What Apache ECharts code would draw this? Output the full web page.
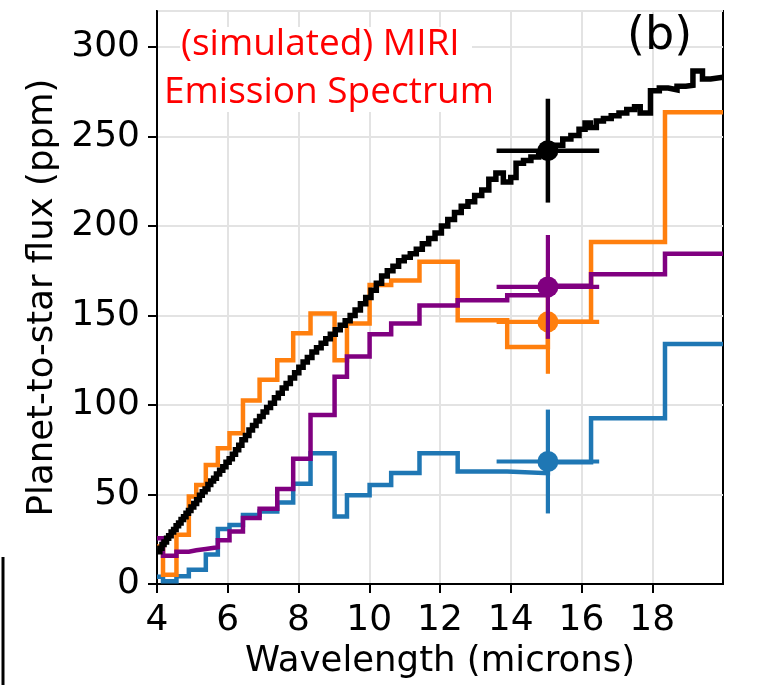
<!DOCTYPE html>
<html>
<head>
<meta charset="utf-8">
<script src="https://cdn.jsdelivr.net/npm/echarts@6/dist/echarts.min.js"></script>
<style>
  html, body { margin: 0; padding: 0; background: #ffffff; }
  #chart { width: 760px; height: 685px; }
</style>
</head>
<body>
<div id="chart"></div>
<script>
// Binned model spectra (bin edges in microns, planet-to-star flux in ppm)
const binEdges = [4.0, 4.17, 4.55, 4.9, 5.11, 5.38, 5.72, 6.05, 6.43, 6.9, 7.4, 7.85,
  8.34, 9.02, 9.37, 10.01, 10.62, 11.42, 12.5, 13.9, 15.05, 16.27, 18.36, 20.0];
const orangeFlux = [21, 5.2, 27.5, 48.8, 55.3, 66.5, 75.8, 84.2, 102.5, 114, 125, 140,
  151, 125, 145.5, 167, 169.5, 180, 147.3, 132.4, 146.4, 191, 263.5];
const purpleFlux = [25.6, 15.8, 18, 18.8, 19.5, 20.5, 24.5, 29.3, 36.8, 42, 53, 70,
  94.4, 115.7, 127, 139.5, 145.5, 155.6, 158.5, 161.3, 166.5, 173, 184.5];
const blueFlux = [4, 1.5, 4.3, 8, 8, 16.5, 30.7, 33, 38.6, 40.5, 45.5, 56,
  73, 37.7, 49.5, 55.3, 62, 73, 62.8, 61.9, 68, 92.5, 134];

// High-resolution model spectrum
const blackWave = [4.02, 4.08, 4.14, 4.20, 4.27, 4.33, 4.40, 4.47, 4.54, 4.61, 4.68, 4.75,
  4.82, 4.89, 4.96, 5.04, 5.12, 5.20, 5.28, 5.36, 5.44, 5.52, 5.60, 5.68, 5.77, 5.86,
  5.95, 6.04, 6.13, 6.22, 6.31, 6.40, 6.50, 6.60, 6.70, 6.80, 6.90, 7.00, 7.10, 7.21,
  7.32, 7.43, 7.54, 7.65, 7.77, 7.89, 8.01, 8.13, 8.25, 8.38, 8.51, 8.64, 8.77, 8.90,
  9.04, 9.18, 9.32, 9.46, 9.60, 9.75, 9.90, 10.05, 10.20, 10.35, 10.51, 10.67, 10.83,
  10.99, 11.16, 11.33, 11.50, 11.68, 11.86, 12.04, 12.22, 12.41, 12.60, 12.79, 12.98,
  13.18, 13.38, 13.58, 13.79, 14.00, 14.15, 14.36, 14.57, 14.79, 15.01, 15.24, 15.47,
  15.70, 15.93, 16.10, 16.25, 16.42, 16.62, 16.84, 17.06, 17.28, 17.50, 17.66, 17.95,
  18.20, 18.45, 18.70, 18.95, 19.15, 19.42, 19.65, 20.0];
const blackFlux = [18, 20, 22, 23.5, 25.5, 27, 29, 30.5, 32.5, 34, 36, 37.5,
  39.5, 41, 43, 45, 47, 49.5, 51.5, 53, 55.5, 57.5, 59, 61.5, 63.5, 65.5,
  68, 70, 72.5, 75, 77.5, 80.5, 83, 86, 88.5, 91, 93.5, 96, 98.5, 101,
  104, 106.5, 109.5, 112, 115, 118, 121, 124, 126.5, 129.5, 132, 134.5, 137, 139.5,
  142, 144.5, 147, 150, 153, 156.5, 160, 164, 168, 172, 175, 177.5, 180.5,
  182.5, 184.5, 187, 190, 193, 196, 200, 203.5, 207.5, 211, 213.5, 217,
  220, 226, 229.5, 224.5, 227, 235, 236.5, 238.5, 240.5, 243, 245, 248.5,
  250.5, 254, 257.5, 255, 258.5, 260, 261.5, 263, 265, 266.5, 263, 275.5,
  277, 276, 278, 278.5, 286.5, 282, 283, 283];

// Simulated photometric points (one filter) with error bars
const photWave = 15.05;
const photHalfWidth = 1.45;
const photErr = 29;
const photNames = ['blue', 'orange', 'purple', 'black'];
const photFlux = [68.4, 146.4, 165.9, 242];

const colors = { blue: '#1f77b4', orange: '#ff7f0e', purple: '#800080', black: '#000000' };
const xTicks = [4, 6, 8, 10, 12, 14, 16, 18];

function stepPoints(edges, values) {
  const pts = values.map((v, i) => [edges[i], v]);
  pts.push([edges[edges.length - 1], values[values.length - 1]]);
  return pts;
}

function stepSeries(name, data, color, width, z) {
  return {
    name, type: 'line', step: 'end', data, showSymbol: false, symbol: 'none',
    lineStyle: { color, width, join: 'miter' }, z, animation: false, clip: true
  };
}

function errorSeries(name, idx, z) {
  return {
    name: name + '-err', type: 'custom', z, animation: false,
    data: [[photWave, photFlux[idx], photHalfWidth, photErr]],
    renderItem(params, api) {
      const x = api.value(0), y = api.value(1), xe = api.value(2), ye = api.value(3);
      const l = api.coord([x - xe, y]), r = api.coord([x + xe, y]);
      const t = api.coord([x, y + ye]), b = api.coord([x, y - ye]);
      const st = { stroke: colors[name], lineWidth: name === 'black' ? 4.5 : 4.2 };
      return {
        type: 'group',
        children: [
          { type: 'line', shape: { x1: l[0], y1: l[1], x2: r[0], y2: r[1] }, style: st },
          { type: 'line', shape: { x1: t[0], y1: t[1], x2: b[0], y2: b[1] }, style: st }
        ]
      };
    }
  };
}

function markerSeries(name, idx, z) {
  return {
    name: name + '-pt', type: 'scatter', z, animation: false,
    data: [[photWave, photFlux[idx]]], symbol: 'circle', symbolSize: 21,
    itemStyle: { color: colors[name], opacity: 1 }
  };
}

const chart = echarts.init(document.getElementById('chart'), null, { renderer: 'canvas' });

const series = [
  stepSeries('blue', stepPoints(binEdges, blueFlux), colors.blue, 4.5, 2),
  stepSeries('orange', stepPoints(binEdges, orangeFlux), colors.orange, 4.5, 3),
  stepSeries('purple', stepPoints(binEdges, purpleFlux), colors.purple, 4.5, 4),
  stepSeries('black', blackWave.map((w, i) => [w, blackFlux[i]]), colors.black, 5.5, 5)
];
photNames.forEach((n, i) => {
  series.push(errorSeries(n, i, 6 + i * 2));
  series.push(markerSeries(n, i, 7 + i * 2));
});

const axisFont = 'DejaVu Sans';
const noteFont = '37px "Open Sans"';

chart.setOption({
  backgroundColor: '#ffffff',
  animation: false,
  grid: {
    left: 157, top: 11, width: 566, height: 573,
    show: true, borderColor: '#000000', borderWidth: 2, backgroundColor: 'transparent'
  },
  xAxis: {
    type: 'value', min: 4, max: 20, interval: 2,
    name: 'Wavelength (microns)', nameLocation: 'middle', nameGap: 56,
    nameTextStyle: { fontFamily: axisFont, fontSize: 35.5, color: '#000' },
    axisLine: { show: true, onZero: false, lineStyle: { color: '#000', width: 2 } },
    axisTick: { show: true, inside: false, length: 9, customValues: xTicks,
      lineStyle: { color: '#000', width: 2 } },
    axisLabel: { show: true, margin: 19, customValues: xTicks,
      fontFamily: axisFont, fontSize: 36, color: '#000' },
    splitLine: { show: true, lineStyle: { color: '#e3e3e3', width: 2 } }
  },
  yAxis: {
    type: 'value', min: 0, max: 320, interval: 50,
    name: 'Planet-to-star flux (ppm)', nameLocation: 'middle', nameGap: 92,
    nameTextStyle: { fontFamily: axisFont, fontSize: 35.5, color: '#000' },
    axisLine: { show: true, onZero: false, lineStyle: { color: '#000', width: 2 } },
    axisTick: { show: true, inside: false, length: 9, lineStyle: { color: '#000', width: 2 } },
    axisLabel: { show: true, margin: 17, showMaxLabel: false,
      fontFamily: axisFont, fontSize: 36, color: '#000' },
    splitLine: { show: true, lineStyle: { color: '#e3e3e3', width: 2 } }
  },
  graphic: [
    // white backing behind the annotation lines
    { type: 'rect', shape: { x: 180, y: 27, width: 292, height: 38 },
      style: { fill: '#ffffff' }, z: 20 },
    { type: 'rect', shape: { x: 163, y: 65, width: 332, height: 47 },
      style: { fill: '#ffffff' }, z: 20 },
    { type: 'text', z: 21, style: { x: 181, y: 44, text: '(simulated) MIRI', fill: '#ff0000',
      font: noteFont, verticalAlign: 'middle' } },
    { type: 'text', z: 21, style: { x: 164, y: 92, text: 'Emission Spectrum', fill: '#ff0000',
      font: noteFont, verticalAlign: 'middle' } },
    { type: 'text', z: 21, style: { x: 627, y: 37, text: '(b)', fill: '#000000',
      font: '46px "DejaVu Sans"', verticalAlign: 'middle' } },
    { type: 'line', shape: { x1: 3, y1: 557, x2: 3, y2: 685 },
      style: { stroke: '#000000', lineWidth: 3 } }
  ],
  series
});
</script>
</body>
</html>
